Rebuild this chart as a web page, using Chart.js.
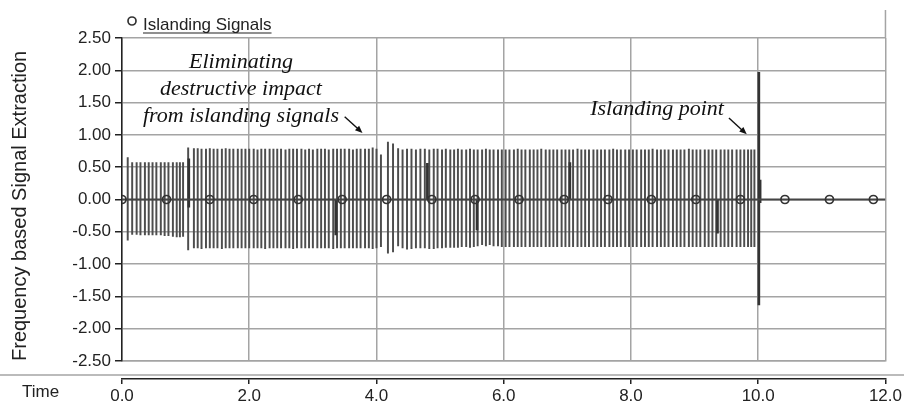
<!DOCTYPE html>
<html>
<head>
<meta charset="utf-8">
<title>Frequency based Signal Extraction</title>
<script src="https://cdn.jsdelivr.net/npm/chart.js@4.4.1/dist/chart.umd.min.js"></script>
<style>
  html, body { margin: 0; padding: 0; background: #fff; }
  #wrap { width: 904px; height: 407px; }
</style>
</head>
<body>
<div id="wrap"><canvas id="chart"></canvas></div>
<script>
// ---- data ----
const xTicks = [0, 2, 4, 6, 8, 10, 12];
const yTicks = [-2.5, -2, -1.5, -1, -0.5, 0, 0.5, 1, 1.5, 2, 2.5];

// islanding signal markers (circles on the zero line)
const circleTimes = [0, 0.70, 1.38, 2.07, 2.77, 3.46, 4.16, 4.87, 5.55, 6.24, 6.95, 7.64, 8.32, 9.02, 9.72, 10.42, 11.12, 11.81];
const circleValues = [0, 0, 0, 0, 0, 0, 0, 0, 0, 0, 0, 0, 0, 0, 0, 0, 0, 0];

// zero line under the markers
const baselineTimes = [0, 12];
const baselineValues = [0, 0];

// extracted signal spikes (time, top, bottom)
const spikeTimes = [
  0.09,0.16,0.23,0.29,0.36,0.42,0.48,0.54,0.61,0.67,0.73,0.80,0.86,0.91,0.96,
  1.04,
  1.13,1.19,1.25,1.32,1.38,1.44,1.50,1.57,1.63,1.69,1.75,1.82,1.88,1.94,
  2.00,2.07,2.13,2.19,2.25,2.32,2.38,2.44,2.50,2.57,2.63,2.69,2.75,2.82,2.88,2.94,
  3.00,3.07,3.13,3.19,3.25,3.32,3.38,3.44,3.50,3.57,3.63,3.69,3.75,3.82,3.88,3.94,
  4.00,4.07,4.18,4.26,4.34,4.41,4.48,4.55,4.62,4.69,4.76,4.83,4.90,4.96,
  5.03,5.09,5.16,5.22,5.28,5.34,5.41,5.47,5.53,5.59,5.66,5.72,5.78,5.84,5.91,5.97,
  6.03,6.09,6.16,6.22,6.28,6.34,6.41,6.47,6.53,6.59,6.66,6.72,6.78,6.84,6.91,6.97,
  7.03,7.09,7.16,7.22,7.28,7.34,7.41,7.47,7.53,7.59,7.66,7.72,7.78,7.84,7.91,7.97,
  8.03,8.09,8.16,8.22,8.28,8.34,8.41,8.47,8.53,8.59,8.66,8.72,8.78,8.84,8.91,8.97,
  9.03,9.09,9.16,9.22,9.28,9.34,9.41,9.47,9.53,9.59,9.66,9.72,9.78,9.84,9.89,9.94
];
const spikeHigh = [
  0.65,0.57,0.57,0.57,0.57,0.57,0.57,0.57,0.57,0.57,0.57,0.57,0.57,0.57,0.57,
  0.80,
  0.79,0.79,0.78,0.78,0.79,0.78,0.78,0.78,0.79,0.78,0.78,0.78,0.78,0.78,
  0.78,0.78,0.77,0.78,0.78,0.78,0.78,0.78,0.78,0.77,0.78,0.78,0.78,0.78,0.77,0.78,
  0.77,0.78,0.78,0.78,0.77,0.78,0.78,0.78,0.78,0.78,0.77,0.78,0.78,0.78,0.78,0.80,
  0.78,0.69,0.89,0.86,0.79,0.77,0.78,0.78,0.77,0.78,0.78,0.77,0.78,0.78,
  0.77,0.78,0.77,0.77,0.78,0.77,0.77,0.78,0.77,0.77,0.77,0.78,0.77,0.77,0.77,0.77,
  0.77,0.77,0.77,0.78,0.77,0.77,0.77,0.77,0.77,0.78,0.77,0.77,0.77,0.77,0.77,0.77,
  0.77,0.77,0.78,0.77,0.77,0.77,0.77,0.77,0.77,0.77,0.77,0.78,0.77,0.77,0.77,0.77,
  0.77,0.77,0.77,0.77,0.77,0.78,0.77,0.77,0.77,0.77,0.77,0.77,0.77,0.77,0.78,0.77,
  0.77,0.77,0.77,0.77,0.77,0.77,0.77,0.77,0.77,0.77,0.77,0.77,0.77,0.77,0.77,0.77
];
const spikeLow = [
  -0.63,-0.54,-0.54,-0.55,-0.55,-0.55,-0.55,-0.55,-0.55,-0.56,-0.56,-0.57,-0.58,-0.58,-0.57,
  -0.78,
  -0.75,-0.75,-0.76,-0.75,-0.75,-0.75,-0.75,-0.76,-0.75,-0.75,-0.75,-0.75,-0.75,-0.75,
  -0.75,-0.75,-0.75,-0.75,-0.76,-0.75,-0.75,-0.75,-0.75,-0.75,-0.75,-0.76,-0.75,-0.75,-0.75,-0.75,
  -0.75,-0.75,-0.75,-0.75,-0.75,-0.76,-0.75,-0.75,-0.75,-0.75,-0.75,-0.75,-0.75,-0.75,-0.75,-0.76,
  -0.75,-0.73,-0.83,-0.81,-0.72,-0.75,-0.77,-0.76,-0.75,-0.75,-0.75,-0.76,-0.76,-0.75,
  -0.75,-0.74,-0.74,-0.74,-0.74,-0.73,-0.73,-0.74,-0.73,-0.72,-0.70,-0.72,-0.70,-0.72,-0.72,-0.73,
  -0.73,-0.73,-0.73,-0.73,-0.73,-0.73,-0.73,-0.73,-0.73,-0.73,-0.73,-0.73,-0.73,-0.73,-0.73,-0.73,
  -0.73,-0.73,-0.73,-0.73,-0.73,-0.73,-0.73,-0.73,-0.73,-0.73,-0.73,-0.73,-0.73,-0.73,-0.73,-0.73,
  -0.73,-0.73,-0.73,-0.73,-0.73,-0.73,-0.73,-0.73,-0.73,-0.73,-0.73,-0.73,-0.73,-0.73,-0.73,-0.73,
  -0.73,-0.73,-0.73,-0.73,-0.73,-0.73,-0.73,-0.73,-0.73,-0.73,-0.73,-0.73,-0.73,-0.73,-0.73,-0.73
];

// single islanding pulses sticking out of the train, and the islanding point
const pulseTimes = [1.05, 3.36, 4.80, 5.58, 7.04, 9.36, 10.01, 10.03];
const pulseHigh  = [0.63, 0.00, 0.56, 0.00, 0.57, 0.00, 1.97, 0.30];
const pulseLow   = [-0.12, -0.55, 0.00, -0.47, 0.00, -0.52, -1.63, -0.05];

// ---- styling ----
const gridColor = '#a4a4a4';
const axisColor = '#222';
const textColor = '#222';
const sans = '"Liberation Sans", Arial, sans-serif';
const serif = '"Liberation Serif", "Times New Roman", serif';

function toPoints(xs, ys) {
  return xs.map((t, i) => ({ x: t, y: ys[i] }));
}
function toRanges(xs, lo, hi) {
  return xs.map((t, i) => ({ x: t, y: [lo[i], hi[i]] }));
}

function arrow(ctx, x1, y1, x2, y2) {
  const ang = Math.atan2(y2 - y1, x2 - x1);
  ctx.beginPath();
  ctx.moveTo(x1, y1);
  ctx.lineTo(x2 - 5 * Math.cos(ang), y2 - 5 * Math.sin(ang));
  ctx.stroke();
  ctx.beginPath();
  ctx.moveTo(x2, y2);
  ctx.lineTo(x2 - 8 * Math.cos(ang - 0.4), y2 - 8 * Math.sin(ang - 0.4));
  ctx.lineTo(x2 - 8 * Math.cos(ang + 0.4), y2 - 8 * Math.sin(ang + 0.4));
  ctx.closePath();
  ctx.fill();
}

// frame pieces, legend, "Time" label and the two notes
const decor = {
  id: 'decor',
  afterDraw(chart) {
    const ctx = chart.ctx;
    const area = chart.chartArea;
    const sx = chart.scales.x, sy = chart.scales.y;
    ctx.save();

    ctx.strokeStyle = gridColor;
    ctx.lineWidth = 1.5;
    ctx.beginPath();
    ctx.moveTo(area.right, area.top);
    ctx.lineTo(area.right, 10);
    ctx.stroke();
    ctx.beginPath();
    ctx.moveTo(0, 375);
    ctx.lineTo(chart.width, 375);
    ctx.stroke();

    ctx.fillStyle = textColor;
    ctx.font = '17px ' + sans;
    ctx.textBaseline = 'alphabetic';
    ctx.textAlign = 'left';
    ctx.fillText('Time', 22, 397);

    // legend
    ctx.strokeStyle = '#333';
    ctx.lineWidth = 1.7;
    ctx.beginPath();
    ctx.arc(132, 21, 4, 0, Math.PI * 2);
    ctx.stroke();
    const label = 'Islanding Signals';
    ctx.fillText(label, 143, 30);
    const w = ctx.measureText(label).width;
    ctx.strokeStyle = textColor;
    ctx.lineWidth = 1.2;
    ctx.beginPath();
    ctx.moveTo(143, 33);
    ctx.lineTo(143 + w, 33);
    ctx.stroke();

    // notes
    ctx.fillStyle = '#111';
    ctx.strokeStyle = '#111';
    ctx.lineWidth = 1.4;
    ctx.font = 'italic 22px ' + serif;
    ctx.textAlign = 'center';
    const cx = sx.getPixelForValue(1.87);
    ctx.fillText('Eliminating', cx, sy.getPixelForValue(2.04));
    ctx.fillText('destructive impact', cx, sy.getPixelForValue(1.62));
    ctx.fillText('from islanding signals', cx, sy.getPixelForValue(1.20));
    arrow(ctx, sx.getPixelForValue(3.50), sy.getPixelForValue(1.28),
               sx.getPixelForValue(3.78), sy.getPixelForValue(1.03));

    ctx.fillText('Islanding point', sx.getPixelForValue(8.41), sy.getPixelForValue(1.31));
    arrow(ctx, sx.getPixelForValue(9.54), sy.getPixelForValue(1.26),
               sx.getPixelForValue(9.82), sy.getPixelForValue(1.01));
    ctx.restore();
  }
};

const ctx = document.getElementById('chart').getContext('2d');
const chart = new Chart(ctx, {
  type: 'scatter',
  data: {
    datasets: [
      {
        label: 'Islanding Signals',
        type: 'line',
        data: toPoints(circleTimes, circleValues),
        showLine: false,
        pointStyle: 'circle',
        pointRadius: 4,
        pointBorderWidth: 1.7,
        pointBorderColor: '#333',
        pointBackgroundColor: 'rgba(255,255,255,0)',
        order: 0
      },
      {
        label: 'zero',
        type: 'line',
        data: toPoints(baselineTimes, baselineValues),
        borderColor: '#444',
        borderWidth: 2.2,
        pointRadius: 0,
        order: 1
      },
      {
        label: 'pulses',
        type: 'bar',
        data: toRanges(pulseTimes, pulseLow, pulseHigh),
        backgroundColor: '#333',
        barThickness: 2,
        grouped: false,
        order: 2
      },
      {
        label: 'signal',
        type: 'bar',
        data: toRanges(spikeTimes, spikeLow, spikeHigh),
        backgroundColor: '#4d4d4d',
        barThickness: 1.3,
        grouped: false,
        order: 3
      }
    ]
  },
  options: {
    responsive: true,
    maintainAspectRatio: false,
    animation: false,
    devicePixelRatio: 1,
    layout: { padding: { top: 38, right: 17, bottom: 0, left: 0 } },
    plugins: {
      legend: { display: false },
      tooltip: { enabled: false }
    },
    scales: {
      x: {
        type: 'linear',
        min: 0,
        max: 12,
        offset: false,
        afterBuildTicks: s => { s.ticks = xTicks.map(v => ({ value: v })); },
        ticks: { display: false },
        grid: { offset: false, color: gridColor, lineWidth: 1.5, drawTicks: false },
        border: { color: gridColor, width: 1.5 },
        afterFit: s => { s.height = 18; }
      },
      x2: {
        type: 'linear',
        position: 'bottom',
        min: 0,
        max: 12,
        offset: false,
        afterBuildTicks: s => { s.ticks = xTicks.map(v => ({ value: v })); },
        ticks: {
          autoSkip: false,
          maxRotation: 0,
          padding: 2,
          color: textColor,
          font: { family: sans, size: 17 },
          callback: v => v.toFixed(1)
        },
        grid: { offset: false, drawOnChartArea: false, drawTicks: true, tickLength: 5, color: axisColor, lineWidth: 1.5 },
        border: { color: axisColor, width: 1.5 },
        afterFit: s => { s.height = 28; }
      },
      y: {
        type: 'linear',
        min: -2.5,
        max: 2.5,
        afterBuildTicks: s => { s.ticks = yTicks.map(v => ({ value: v })); },
        ticks: {
          padding: 4,
          color: textColor,
          font: { family: sans, size: 17 },
          callback: v => v.toFixed(2)
        },
        grid: { color: gridColor, lineWidth: 1.5, tickLength: 7, tickColor: axisColor },
        border: { color: axisColor, width: 1.5 },
        title: {
          display: true,
          text: 'Frequency based Signal Extraction',
          align: 'start',
          color: textColor,
          font: { family: sans, size: 20 },
          padding: { top: 8, bottom: 0 }
        },
        afterFit: s => { s.width = 122; }
      }
    }
  },
  plugins: [decor]
});
</script>
</body>
</html>
